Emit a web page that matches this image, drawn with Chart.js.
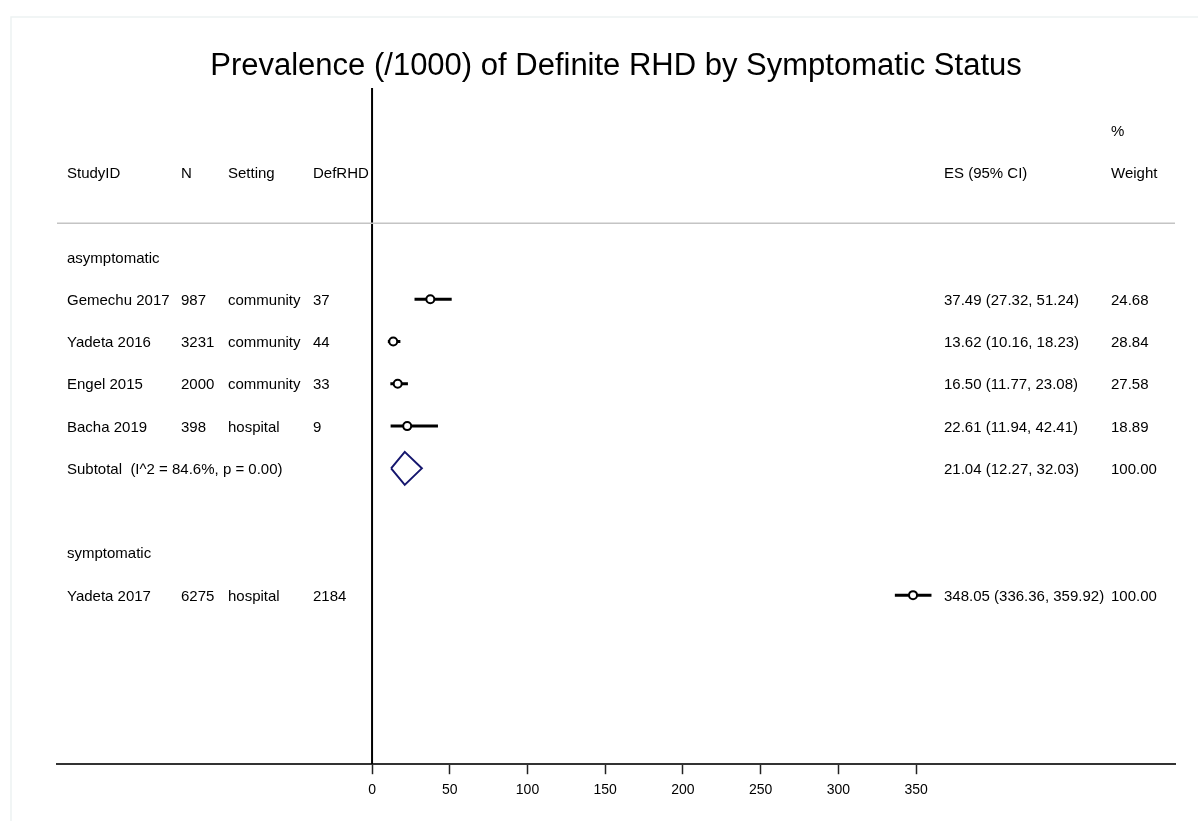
<!DOCTYPE html>
<html>
<head>
<meta charset="utf-8">
<script src="https://cdn.jsdelivr.net/npm/chart.js@4"></script>
<style>
    html, body { margin: 0; padding: 0; background: #fff; }
    #wrap { width: 1198px; height: 821px; }
</style>
</head>
<body>
<div id="wrap"><canvas id="myChart" width="1198" height="821"></canvas></div>
<script>
const chartTitle = 'Prevalence (/1000) of Definite RHD by Symptomatic Status';
const headerCols = ['StudyID', 'N', 'Setting', 'DefRHD'];

const groupNames = ['asymptomatic', 'symptomatic'];
const studyIds = ['Gemechu 2017', 'Yadeta 2016', 'Engel 2015', 'Bacha 2019', 'Yadeta 2017'];
const studyGroup = ['asymptomatic', 'asymptomatic', 'asymptomatic', 'asymptomatic', 'symptomatic'];
const sampleN = [987, 3231, 2000, 398, 6275];
const settings = ['community', 'community', 'community', 'hospital', 'hospital'];
const defRHD = [37, 44, 33, 9, 2184];
const esValues = [37.49, 13.62, 16.50, 22.61, 348.05];
const ciLow = [27.32, 10.16, 11.77, 11.94, 336.36];
const ciHigh = [51.24, 18.23, 23.08, 42.41, 359.92];
const weights = [24.68, 28.84, 27.58, 18.89, 100.00];

const subtotalLabel = 'Subtotal  (I^2 = 84.6%, p = 0.00)';
const subtotalEs = [21.04];
const subtotalLow = [12.27];
const subtotalHigh = [32.03];
const subtotalWeight = [100.00];

const xTicks = [0, 50, 100, 150, 200, 250, 300, 350];

const FONT = '"Liberation Sans", Arial, Helvetica, sans-serif';

// work out row positions (Stata style: group header, studies, subtotal, gap)
const rows = [];
let row = 4;
groupNames.forEach(name => {
    rows.push({ type: 'group', row, text: name });
    row++;
    const members = studyIds.map((s, i) => i).filter(i => studyGroup[i] === name);
    members.forEach(i => {
        rows.push({ type: 'study', row, i });
        row++;
    });
    if (members.length > 1) {
        rows.push({ type: 'subtotal', row, i: 0 });
        row++;
    }
    row++;
});

const fmt = v => v.toFixed(2);

const datasets = [];
const pointData = [];
rows.filter(r => r.type === 'study').forEach(r => {
    datasets.push({
        data: [{ x: ciLow[r.i], y: r.row }, { x: ciHigh[r.i], y: r.row }],
        showLine: true,
        borderColor: '#000',
        borderWidth: 3,
        pointRadius: 0,
        order: 2,
    });
    pointData.push({ x: esValues[r.i], y: r.row });
});
datasets.push({
    data: pointData,
    pointRadius: 4,
    pointBorderWidth: 2,
    pointBorderColor: '#000',
    pointBackgroundColor: '#fff',
    order: 0,
});
rows.filter(r => r.type === 'subtotal').forEach(r => {
    const h = 0.39;
    datasets.push({
        data: [
            { x: subtotalLow[r.i], y: r.row },
            { x: subtotalEs[r.i], y: r.row - h },
            { x: subtotalHigh[r.i], y: r.row },
            { x: subtotalEs[r.i], y: r.row + h },
            { x: subtotalLow[r.i], y: r.row },
        ],
        showLine: true,
        borderColor: '#15166e',
        borderWidth: 2,
        pointRadius: 0,
        tension: 0,
        order: 1,
    });
});
// null line
datasets.push({
    data: [{ x: 0, y: 0 }, { x: 0, y: 16 }],
    showLine: true,
    borderColor: '#000',
    borderWidth: 2,
    pointRadius: 0,
    order: 3,
});

const tablePlugin = {
    id: 'table',
    beforeDraw(chart) {
        const c = chart.ctx;
        c.save();
        c.fillStyle = '#fff';
        c.fillRect(0, 0, chart.width, chart.height);
        c.strokeStyle = '#edf2f2';
        c.lineWidth = 1.5;
        c.beginPath();
        c.moveTo(11, chart.height);
        c.lineTo(11, 17);
        c.lineTo(chart.width, 17);
        c.stroke();
        c.restore();
    },
    afterDatasetsDraw(chart) {
        const c = chart.ctx;
        const area = chart.chartArea;
        const ys = chart.scales.y;
        const at = r => ys.getPixelForValue(r) + 5.5;
        c.save();

        // title
        c.fillStyle = '#000';
        c.font = `31px ${FONT}`;
        c.textAlign = 'center';
        c.textBaseline = 'alphabetic';
        c.fillText(chartTitle, (area.left + area.right) / 2, 75);

        // separator under header
        c.strokeStyle = '#c4c4c4';
        c.lineWidth = 1.5;
        c.beginPath();
        const ly = ys.getPixelForValue(3.2);
        c.moveTo(area.left, ly);
        c.lineTo(area.right, ly);
        c.stroke();

        c.font = `15px ${FONT}`;
        c.textAlign = 'left';
        const cols = [67, 181, 228, 313];
        const esX = 944;
        const wX = 1111;

        headerCols.forEach((h, k) => c.fillText(h, cols[k], at(2)));
        c.fillText('ES (95% CI)', esX, at(2));
        c.fillText('%', wX, at(1));
        c.fillText('Weight', wX, at(2));

        rows.forEach(r => {
            const y = at(r.row);
            if (r.type === 'group') {
                c.fillText(r.text, cols[0], y);
            } else if (r.type === 'study') {
                const i = r.i;
                c.fillText(studyIds[i], cols[0], y);
                c.fillText(String(sampleN[i]), cols[1], y);
                c.fillText(settings[i], cols[2], y);
                c.fillText(String(defRHD[i]), cols[3], y);
                c.fillText(`${fmt(esValues[i])} (${fmt(ciLow[i])}, ${fmt(ciHigh[i])})`, esX, y);
                c.fillText(fmt(weights[i]), wX, y);
            } else {
                const i = r.i;
                c.fillText(subtotalLabel, cols[0], y);
                c.fillText(`${fmt(subtotalEs[i])} (${fmt(subtotalLow[i])}, ${fmt(subtotalHigh[i])})`, esX, y);
                c.fillText(fmt(subtotalWeight[i]), wX, y);
            }
        });
        c.restore();
    },
};

new Chart(document.getElementById('myChart').getContext('2d'), {
    type: 'scatter',
    data: { datasets },
    plugins: [tablePlugin],
    options: {
        responsive: false,
        animation: false,
        events: [],
        layout: {
            padding: { left: 57, right: 23, top: 88, bottom: 14 },
        },
        plugins: {
            legend: { display: false },
            tooltip: { enabled: false },
            title: { display: false },
        },
        scales: {
            x: {
                type: 'linear',
                min: -202.7,
                max: 516.6,
                afterBuildTicks: scale => {
                    scale.ticks = xTicks.map(v => ({ value: v }));
                },
                ticks: {
                    color: '#000',
                    padding: 8,
                    maxRotation: 0,
                    autoSkip: false,
                    font: { size: 14, family: FONT },
                    callback: v => v,
                },
                grid: {
                    drawOnChartArea: false,
                    tickLength: 10,
                    tickColor: '#222',
                    tickWidth: 1.5,
                },
                border: { color: '#333', width: 2 },
            },
            y: {
                type: 'linear',
                min: 0,
                max: 16,
                reverse: true,
                display: false,
            },
        },
    },
});
</script>
</body>
</html>
